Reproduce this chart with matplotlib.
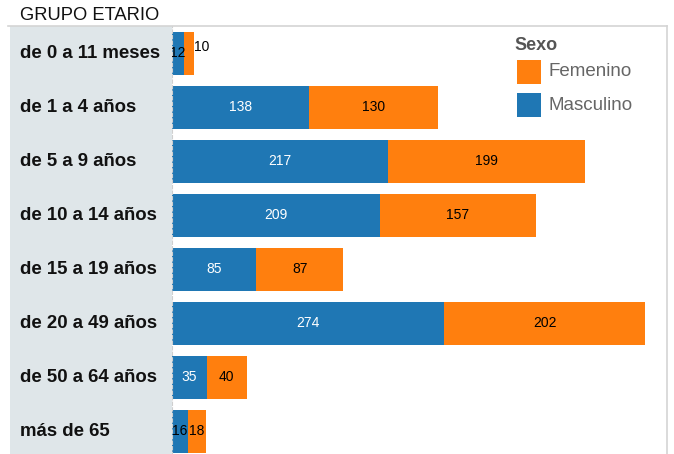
import matplotlib
matplotlib.use("Agg")
import matplotlib.pyplot as plt
from matplotlib.patches import Rectangle
from matplotlib.lines import Line2D

plt.rcParams['font.family'] = ['Liberation Sans', 'DejaVu Sans']

categories = ["de 0 a 11 meses", "de 1 a 4 años", "de 5 a 9 años", "de 10 a 14 años",
              "de 15 a 19 años", "de 20 a 49 años", "de 50 a 64 años", "más de 65"]
masculino = [12, 138, 217, 209, 85, 274, 35, 16]
femenino = [10, 130, 199, 157, 87, 202, 40, 18]
legend_title = "Sexo"
legend_labels = ["Femenino", "Masculino"]
header = "GRUPO ETARIO"

BLUE = "#1f77b4"
ORANGE = "#ff7f0e"
W, H = 674, 454

fig = plt.figure(figsize=(W / 100, H / 100), dpi=100)
fig.patch.set_facecolor("white")

# left panel
fig.patches.append(Rectangle((10 / W, 0), (172 - 10) / W, (H - 26) / H,
                             transform=fig.transFigure, facecolor="#dfe6e9",
                             edgecolor="none", zorder=0))
# top border line
fig.lines.append(Line2D([8 / W, 667 / W], [(H - 26) / H, (H - 26) / H],
                        transform=fig.transFigure, color="#d4d4d4", lw=1.2))

top_px, bot_px = 26.3, 458.3
ax = fig.add_axes([172 / W, (H - bot_px) / H, (667 - 172) / W, (bot_px - top_px) / H])
ax.set_facecolor("none")
y = list(range(len(categories)))
ax.barh(y, masculino, height=0.8, color=BLUE)
ax.barh(y, femenino, left=masculino, height=0.8, color=ORANGE)
ax.set_xlim(0, 498)
ax.set_ylim(len(categories) - 0.5, -0.5)
ax.set_xticks([])
ax.set_yticks([])
for s in ["top", "bottom"]:
    ax.spines[s].set_visible(False)
ax.spines["right"].set_color("#d4d4d4")
ax.spines["right"].set_linewidth(1.2)
ax.spines["left"].set_color("#cfcfcf")
ax.spines["left"].set_linestyle((0, (3, 2)))
ax.spines["left"].set_linewidth(0.8)

for i, (m, f) in enumerate(zip(masculino, femenino)):
    mcol = "white" if m > 25 else "black"
    ax.text(m / 2, i, str(m), ha="center", va="center", fontsize=10, color=mcol)
    if f >= 15:
        ax.text(m + f / 2, i, str(f), ha="center", va="center", fontsize=10, color="black")
    else:
        ax.text(m + f + 0.5, i - 0.12, str(f), ha="left", va="center", fontsize=10, color="black")

# category labels in left panel
for i, c in enumerate(categories):
    yc = ax.transData.transform((0, i))[1]
    yf = fig.transFigure.inverted().transform((0, yc))[1]
    fig.text(20 / W, yf, c, ha="left", va="center", fontsize=13.4, fontweight="bold", color="#111111")

fig.text(20 / W, 1 - 15.5 / H, header, ha="left", va="center", fontsize=13.2, color="#111111")

# legend
fig.text(514 / W, 1 - 45 / H, legend_title, ha="left", va="center", fontsize=13,
         fontweight="bold", color="#555555")
for k, (lab, col) in enumerate(zip(legend_labels, [ORANGE, BLUE])):
    yc = 72 + k * 33
    fig.patches.append(Rectangle((517 / W, 1 - (yc + 12) / H), 24 / W, 24 / H,
                                 transform=fig.transFigure, facecolor=col, edgecolor="none"))
    fig.text(549 / W, 1 - yc / H, lab, ha="left", va="center", fontsize=13.5, color="#666666")

fig.savefig("out.png", dpi=100)
